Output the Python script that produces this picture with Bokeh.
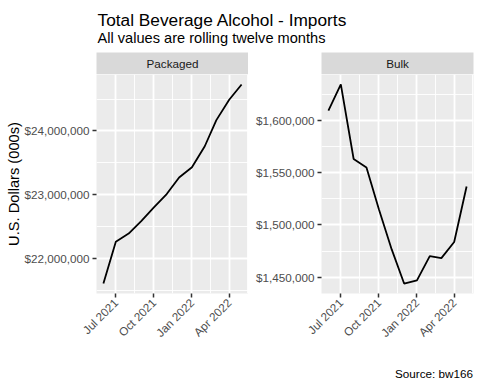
import math
import pandas as pd
from bokeh.plotting import figure
from bokeh.layouts import column, row
from bokeh.models import Range1d, FixedTicker, NumeralTickFormatter, DatetimeTickFormatter, Label
from bokeh.embed import file_html
from bokeh.resources import INLINE

# ---- data ----
months = ["2021-06-01", "2021-07-01", "2021-08-01", "2021-09-01", "2021-10-01", "2021-11-01",
          "2021-12-01", "2022-01-01", "2022-02-01", "2022-03-01", "2022-04-01", "2022-05-01"]
packaged = [21605000, 22262000, 22389000, 22590000, 22800000, 23010000,
            23270000, 23430000, 23760000, 24170000, 24490000, 24730000]
bulk = [1609600, 1634600, 1563200, 1555100, 1515000, 1476600,
        1443900, 1446900, 1470200, 1468300, 1483700, 1536800]
x_tick_dates = ["2021-07-01", "2021-10-01", "2022-01-01", "2022-04-01"]
x_minor_dates = ["2021-08-16", "2021-11-16", "2022-02-15", "2022-05-16"]
packaged_ticks = [22000000, 23000000, 24000000]
packaged_minor = [21500000, 22500000, 23500000, 24500000]
bulk_ticks = [1450000, 1500000, 1550000, 1600000]
bulk_minor = [1425000, 1475000, 1525000, 1575000, 1625000]
facets = ["Packaged", "Bulk"]
title_text = "Total Beverage Alcohol - Imports"
subtitle_text = "All values are rolling twelve months"
ylabel_text = "U.S. Dollars (000s)"
caption_text = "Source: bw166"

FONT = "Liberation Sans"


def ms(d):
    return pd.Timestamp(d).timestamp() * 1000.0


xs = [ms(d) for d in months]
x_ticks = [ms(d) for d in x_tick_dates]
x_minor = [ms(d) for d in x_minor_dates]
xpad = 0.05 * (max(xs) - min(xs))

FRAME_H = 219
HEADER_H = 52
STRIP_H = 22
BOTTOM_B = 57
FOOTER_H = 34
W = 480


def base_fig(**kw):
    return figure(output_backend="svg", toolbar_location=None,
                  min_border_top=0, min_border_bottom=0,
                  min_border_left=0, min_border_right=0, **kw)


def panel(vals, ticks, minor, left, fw, right=0, ylabel=None):
    lo, hi = min(vals), max(vals)
    pad = 0.05 * (hi - lo)
    p = figure(output_backend="svg", toolbar_location=None,
               frame_width=fw, frame_height=FRAME_H,
               x_range=Range1d(min(xs) - xpad, max(xs) + xpad),
               y_range=Range1d(lo - pad, hi + pad),
               x_axis_type="datetime",
               min_border_left=left, min_border_right=right,
               min_border_top=0, min_border_bottom=BOTTOM_B,
               background_fill_color="#EBEBEB", border_fill_color="white",
               outline_line_color=None)
    p.line(xs, vals, line_color="black", line_width=1.8)

    p.xaxis.ticker = FixedTicker(ticks=x_ticks, minor_ticks=x_minor)
    p.xaxis.formatter = DatetimeTickFormatter(months="%b %Y", days="%b %Y",
                                              years="%b %Y", hours="%b %Y")
    p.xaxis.major_label_orientation = math.pi / 4
    p.yaxis.ticker = FixedTicker(ticks=ticks, minor_ticks=minor)
    p.yaxis.formatter = NumeralTickFormatter(format="$0,0")

    for ax in (p.xaxis, p.yaxis):
        ax.axis_line_color = None
        ax.major_tick_line_color = "#333333"
        ax.major_tick_line_width = 1.5
        ax.major_tick_out = 4
        ax.major_tick_in = 0
        ax.minor_tick_line_color = None
        ax.major_label_text_font = FONT
        ax.major_label_text_font_size = "11.7px"
        ax.major_label_text_color = "#4D4D4D"
        ax.major_label_standoff = 3

    p.grid.grid_line_color = "white"
    p.grid.grid_line_width = 1.8
    p.grid.minor_grid_line_color = "white"
    p.grid.minor_grid_line_width = 0.9

    if ylabel:
        p.yaxis.axis_label = ylabel
        p.yaxis.axis_label_text_font = FONT
        p.yaxis.axis_label_text_font_size = "14.67px"
        p.yaxis.axis_label_text_font_style = "normal"
        p.yaxis.axis_label_text_color = "black"
        p.yaxis.axis_label_standoff = 0
    return p


def strip(text, left, fw, right=0):
    s = base_fig(frame_width=fw, frame_height=STRIP_H,
                 x_range=Range1d(0, 1), y_range=Range1d(0, 1),
                 x_axis_type=None, y_axis_type=None,
                 background_fill_color="#D9D9D9", border_fill_color="white",
                 outline_line_color=None)
    s.min_border_left = left
    s.min_border_right = right
    s.add_layout(Label(x=0.5, y=0.5, text=text, text_align="center",
                       text_baseline="middle", text_font=FONT,
                       text_font_size="11.7px", text_color="#1A1A1A"))
    return s


# header (title + subtitle)
header = base_fig(frame_width=W, frame_height=HEADER_H,
                  x_range=Range1d(0, W), y_range=Range1d(0, HEADER_H),
                  x_axis_type=None, y_axis_type=None,
                  background_fill_color="white", border_fill_color="white",
                  outline_line_color=None)
header.add_layout(Label(x=97, y=HEADER_H - 19.8, text=title_text, text_align="left",
                        text_baseline="alphabetic", text_font=FONT,
                        text_font_size="17.3px", text_color="black"))
header.add_layout(Label(x=97, y=HEADER_H - 37.0, text=subtitle_text, text_align="left",
                        text_baseline="alphabetic", text_font=FONT,
                        text_font_size="14.6px", text_color="black"))

# footer (caption)
footer = base_fig(frame_width=W, frame_height=FOOTER_H,
                  x_range=Range1d(0, W), y_range=Range1d(0, FOOTER_H),
                  x_axis_type=None, y_axis_type=None,
                  background_fill_color="white", border_fill_color="white",
                  outline_line_color=None)
footer.add_layout(Label(x=472.5, y=FOOTER_H - 23.3, text=caption_text, text_align="right",
                        text_baseline="alphabetic", text_font=FONT,
                        text_font_size="11.7px", text_color="black"))

p1 = panel(packaged, packaged_ticks, packaged_minor, 96, 152, ylabel=ylabel_text)
p2 = panel(bulk, bulk_ticks, bulk_minor, 73, 152, right=7)
s1 = strip(facets[0], 96, 152)
s2 = strip(facets[1], 73, 152, right=7)

layout = column(header, row(column(s1, p1), column(s2, p2)), footer)

with open("out.html", "w") as f:
    f.write(file_html(layout, INLINE))
